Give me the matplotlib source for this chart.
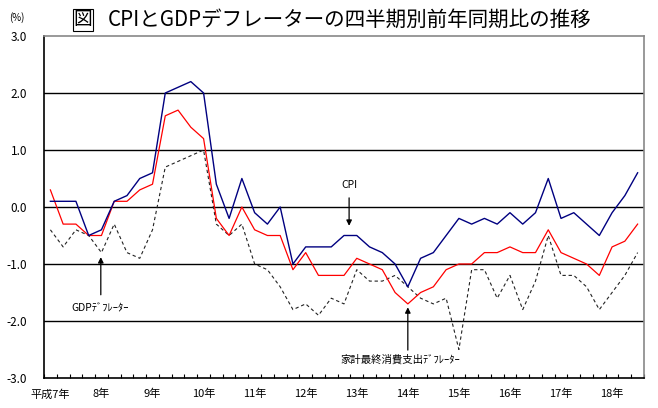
import matplotlib
matplotlib.use("Agg")
import matplotlib.pyplot as plt
import numpy as np

plt.rcParams['font.family'] = ['Noto Sans CJK JP', 'DejaVu Sans']

# Quarterly data: 平成7年1-3月期 ... 平成18年7-9月期 (47 quarters)
cpi = [0.1, 0.1, 0.1, -0.5, -0.4, 0.1, 0.2, 0.5, 0.6, 2.0, 2.1, 2.2, 2.0, 0.4, -0.2, 0.5,
       -0.1, -0.3, 0.0, -1.0, -0.7, -0.7, -0.7, -0.5, -0.5, -0.7, -0.8, -1.0, -1.4, -0.9, -0.8, -0.5,
       -0.2, -0.3, -0.2, -0.3, -0.1, -0.3, -0.1, 0.5, -0.2, -0.1, -0.3, -0.5, -0.1, 0.2, 0.6]
household_deflator = [0.3, -0.3, -0.3, -0.5, -0.5, 0.1, 0.1, 0.3, 0.4, 1.6, 1.7, 1.4, 1.2, -0.2, -0.5, 0.0,
                      -0.4, -0.5, -0.5, -1.1, -0.8, -1.2, -1.2, -1.2, -0.9, -1.0, -1.1, -1.5, -1.7, -1.5, -1.4, -1.1,
                      -1.0, -1.0, -0.8, -0.8, -0.7, -0.8, -0.8, -0.4, -0.8, -0.9, -1.0, -1.2, -0.7, -0.6, -0.3]
gdp_deflator = [-0.4, -0.7, -0.4, -0.5, -0.8, -0.3, -0.8, -0.9, -0.4, 0.7, 0.8, 0.9, 1.0, -0.3, -0.5, -0.3,
                -1.0, -1.1, -1.4, -1.8, -1.7, -1.9, -1.6, -1.7, -1.1, -1.3, -1.3, -1.2, -1.4, -1.6, -1.7, -1.6,
                -2.5, -1.1, -1.1, -1.6, -1.2, -1.8, -1.3, -0.5, -1.2, -1.2, -1.4, -1.8, -1.5, -1.2, -0.8]
year_labels = ['平成7年', '8年', '9年', '10年', '11年', '12年', '13年', '14年', '15年', '16年', '17年', '18年']
y_ticks = [-3.0, -2.0, -1.0, 0.0, 1.0, 2.0, 3.0]

n = len(cpi)
x = np.arange(n)

fig = plt.figure(figsize=(6.58, 4.08), dpi=100)
ax = fig.add_axes([44/658, 1 - 378/408, 600/658, 342/408])

for v in y_ticks[1:-1]:
    ax.axhline(v, color='black', lw=1.0, zorder=1)

ax.plot(x, gdp_deflator, color='#222222', lw=0.8, dashes=(3, 2.5), zorder=3)
ax.plot(x, household_deflator, color='#ff0000', lw=0.9, zorder=4)
ax.plot(x, cpi, color='#000080', lw=1.0, zorder=5)

ax.set_xlim(-0.5, n - 0.5)
ax.set_ylim(-3.0, 3.0)

ax.set_yticks(y_ticks)
ax.set_yticklabels([f"{v:.1f}".replace('\u2212', '-') for v in y_ticks], fontsize=8.5)
ax.tick_params(axis='y', length=0, pad=12)

ax.set_xticks(np.arange(0, n, 4))
ax.set_xticklabels(year_labels, fontsize=8)
ax.tick_params(axis='x', length=0, pad=8)
ax.set_xticks(np.arange(-0.5, n + 0.5, 1), minor=True)
ax.tick_params(axis='x', which='minor', direction='in', length=3, width=0.8, color='black')

for s in ['left', 'bottom']:
    ax.spines[s].set_color('black')
    ax.spines[s].set_linewidth(1.2)
for s in ['top', 'right']:
    ax.spines[s].set_color('#888888')
    ax.spines[s].set_linewidth(1.2)

arrow = dict(arrowstyle='-|>', color='black', lw=0.9, mutation_scale=8, shrinkA=0, shrinkB=0)
ax.annotate('', xy=(23.4, -0.33), xytext=(23.4, 0.16), arrowprops=arrow, zorder=6)
ax.text(23.4, 0.39, 'CPI', ha='center', va='center', fontsize=7.5)
ax.annotate('', xy=(3.95, -0.88), xytext=(3.95, -1.54), arrowprops=arrow, zorder=6)
ax.text(3.9, -1.77, 'GDPﾃﾞﾌﾚｰﾀｰ', ha='center', va='center', fontsize=7.5)
ax.annotate('', xy=(28.0, -1.76), xytext=(28.0, -2.51), arrowprops=arrow, zorder=6)
ax.text(27.4, -2.67, '家計最終消費支出ﾃﾞﾌﾚｰﾀｰ', ha='center', va='center', fontsize=7.5)

fig.text(17/658, 1 - 18/408, '(%)', ha='center', va='center', fontsize=7)
fig.text(83/658, 1 - 20/408, '図', ha='center', va='center', fontsize=13.5,
         bbox=dict(boxstyle='square,pad=0.05', fc='none', ec='black', lw=0.8))
fig.text(108/658, 1 - 20/408, 'CPIとGDPデフレーターの四半期別前年同期比の推移',
         ha='left', va='center', fontsize=14.8)

fig.savefig('out.png', dpi=100)
